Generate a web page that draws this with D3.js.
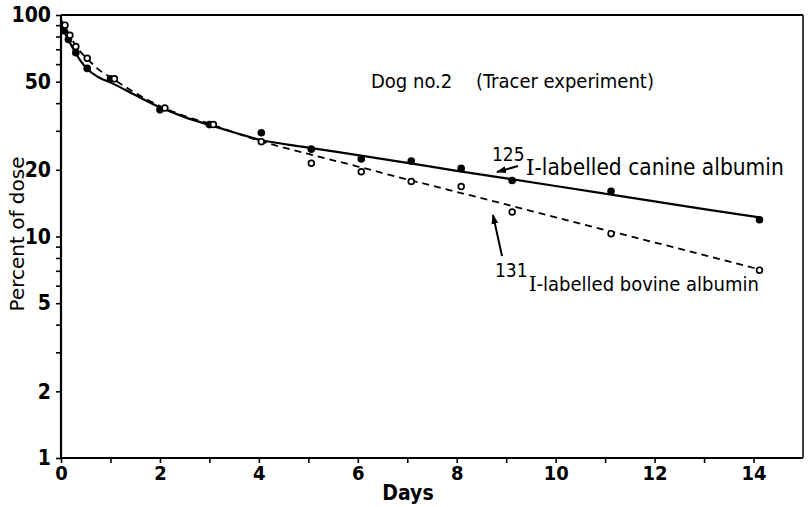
<!DOCTYPE html>
<html>
<head>
<meta charset="utf-8">
<script src="https://cdn.jsdelivr.net/npm/d3@7"></script>
<style>
  html, body { margin: 0; padding: 0; background: #fff; }
  svg { display: block; }
  text { font-family: "DejaVu Sans Condensed", "DejaVu Sans", sans-serif; fill: #000; }
</style>
</head>
<body>
<svg id="chart" width="808" height="507"></svg>
<script>
// ---- data ----
const xTickValues = [0,1,2,3,4,5,6,7,8,9,10,11,12,13,14,15];
const xTickLabels = [0,2,4,6,8,10,12,14];
const yTickValues = [1,2,3,4,5,6,7,8,9,10,20,30,40,50,60,70,80,90,100];
const yTickLabels = [1,2,5,10,20,50,100];

// 125I-labelled canine albumin (filled dots)
const canineDays   = [0.06, 0.15, 0.3, 0.53, 1.0, 2.0, 3.0, 4.05, 5.06, 6.07, 7.08, 8.09, 9.12, 11.12, 14.12];
const canineValues = [85, 77.6, 67.6, 57.4, 51.5, 37.3, 32.0, 29.4, 24.8, 22.4, 21.9, 20.3, 17.9, 16.0, 11.9];
// 131I-labelled bovine albumin (open circles)
const bovineDays   = [0.08, 0.18, 0.3, 0.53, 1.08, 2.1, 3.08, 4.05, 5.06, 6.07, 7.08, 8.09, 9.12, 11.12, 14.12];
const bovineValues = [90, 81, 72, 63.8, 51.5, 38, 32, 26.8, 21.4, 19.6, 17.7, 16.8, 12.9, 10.3, 7.05];

// fitted curves
const canineFitDays   = [0, 0.05, 0.15, 0.3, 0.53, 0.75, 1.05, 1.5, 2, 2.5, 3, 3.5, 4, 5, 6, 7, 8, 9, 10, 11, 12, 13, 14.12];
const canineFitValues = [95, 86, 77.5, 67, 57, 52.5, 49, 43.5, 38.3, 34.6, 31.9, 29.5, 27.4, 25.2, 23.3, 21.5, 19.8, 18.3, 16.9, 15.6, 14.4, 13.3, 12.2];
const bovineFitDays   = [0, 0.08, 0.18, 0.3, 0.53, 0.75, 1.05, 1.5, 2, 2.5, 3, 3.5, 4, 5, 6, 7, 8, 9, 10, 11, 12, 13, 14.12];
const bovineFitValues = [95, 89, 80.5, 72.5, 63.5, 57, 51.5, 44.5, 38.8, 35, 32.3, 29.5, 27.1, 23.6, 20.7, 18.1, 15.9, 13.95, 12.2, 10.7, 9.4, 8.25, 7.1];

const titleText = "Dog no.2";
const subtitleText = "(Tracer experiment)";
const xTitle = "Days";
const yTitle = "Percent of dose";

// ---- drawing ----
const condFont = '"DejaVu Sans Condensed", "DejaVu Sans", sans-serif';
const svg = d3.select("#chart");
const x = d3.scaleLinear().domain([0, 15]).range([61, 803]);
const y = d3.scaleLog().domain([1, 100]).range([458, 15]);

// frame (top and right)
svg.append("line").attr("x1", x(0)).attr("x2", x(15)).attr("y1", y(100)).attr("y2", y(100))
  .attr("stroke", "#000").attr("stroke-width", 2);
svg.append("line").attr("x1", x(15)).attr("x2", x(15)).attr("y1", y(100)).attr("y2", y(1))
  .attr("stroke", "#000").attr("stroke-width", 1.5);

// axes
const xAxis = d3.axisBottom(x).tickValues(xTickValues).tickSize(5).tickPadding(3)
  .tickFormat(d => xTickLabels.includes(d) ? d : "");
const gx = svg.append("g").attr("transform", `translate(0,${y(1)})`).call(xAxis);
gx.select(".domain").attr("stroke-width", 2.2).attr("d", `M${x(0)},0H${x(15)}`);
gx.selectAll(".tick line").attr("stroke-width", 1.6);
gx.selectAll(".tick").filter(d => d === 15).remove();
gx.selectAll("text").attr("font-size", 20).attr("font-weight", "bold").style("font-family", condFont);

const yAxis = d3.axisLeft(y).tickValues(yTickValues).tickSize(5).tickPadding(5)
  .tickFormat(d => yTickLabels.includes(d) ? d : "");
const gy = svg.append("g").attr("transform", `translate(${x(0)},0)`).call(yAxis);
gy.select(".domain").attr("stroke-width", 2.2).attr("d", `M0,${y(100)}V${y(1)}`);
gy.selectAll(".tick line").attr("stroke-width", 1.6);
gy.selectAll("text").attr("font-size", 21).attr("font-weight", "bold").style("font-family", condFont);

// axis titles
svg.append("text").attr("x", 408).attr("y", 500).attr("text-anchor", "middle")
  .attr("font-size", 21).attr("font-weight", "bold").style("font-family", condFont).text(xTitle);
svg.append("text").attr("transform", `translate(24,234) rotate(-90)`).attr("text-anchor", "middle")
  .attr("font-size", 20).style("font-family", '"DejaVu Sans", sans-serif').text(yTitle);

// fitted lines
const line = d3.line().x(d => x(d[0])).y(d => y(d[1])).curve(d3.curveMonotoneX);
svg.append("path").datum(canineFitDays.map((d, i) => [d, canineFitValues[i]]))
  .attr("d", line).attr("fill", "none").attr("stroke", "#000").attr("stroke-width", 2.2);
svg.append("path").datum(bovineFitDays.map((d, i) => [d, bovineFitValues[i]]))
  .attr("d", line).attr("fill", "none").attr("stroke", "#000").attr("stroke-width", 1.8)
  .attr("stroke-dasharray", "7,5");

// points
svg.append("g").selectAll("circle").data(canineDays.map((d, i) => [d, canineValues[i]]))
  .join("circle").attr("cx", d => x(d[0])).attr("cy", d => y(d[1])).attr("r", 3.8).attr("fill", "#000");
svg.append("g").selectAll("circle").data(bovineDays.map((d, i) => [d, bovineValues[i]]))
  .join("circle").attr("cx", d => x(d[0])).attr("cy", d => y(d[1])).attr("r", 2.9)
  .attr("fill", "#fff").attr("stroke", "#000").attr("stroke-width", 1.7);

// title
svg.append("text").attr("x", 371).attr("y", 88).attr("font-size", 20).text(titleText);
svg.append("text").attr("x", 476).attr("y", 88).attr("font-size", 20).text(subtitleText);

// annotations
svg.append("defs").append("marker").attr("id", "arr").attr("viewBox", "0 0 10 10")
  .attr("refX", 9).attr("refY", 5).attr("markerWidth", 5).attr("markerHeight", 5)
  .attr("orient", "auto-start-reverse").attr("markerUnits", "strokeWidth")
  .append("path").attr("d", "M0,1.5L10,5L0,8.5Z").attr("fill", "#000");

function label(iso, rest, xx, yy, fs) {
  const t = svg.append("text").attr("x", xx).attr("y", yy).attr("font-size", fs).style("font-family", condFont);
  t.append("tspan").attr("font-size", 19).attr("dy", -14).style("font-family", condFont).text(iso);
  t.append("tspan").attr("dy", 14).attr("dx", 1).style("font-family", '"DejaVu Serif", serif').text(rest.charAt(0));
  t.append("tspan").style("font-family", condFont).text(rest.slice(1));
}
label("125", "I-labelled canine albumin", 492, 175, 22.5);
label("131", "I-labelled  bovine albumin", 495, 291, 20);

svg.append("line").attr("x1", 518).attr("y1", 166).attr("x2", 497).attr("y2", 172)
  .attr("stroke", "#000").attr("stroke-width", 2).attr("marker-end", "url(#arr)");
svg.append("line").attr("x1", 502).attr("y1", 256).attr("x2", 493).attr("y2", 215)
  .attr("stroke", "#000").attr("stroke-width", 2).attr("marker-end", "url(#arr)");
</script>
</body>
</html>
